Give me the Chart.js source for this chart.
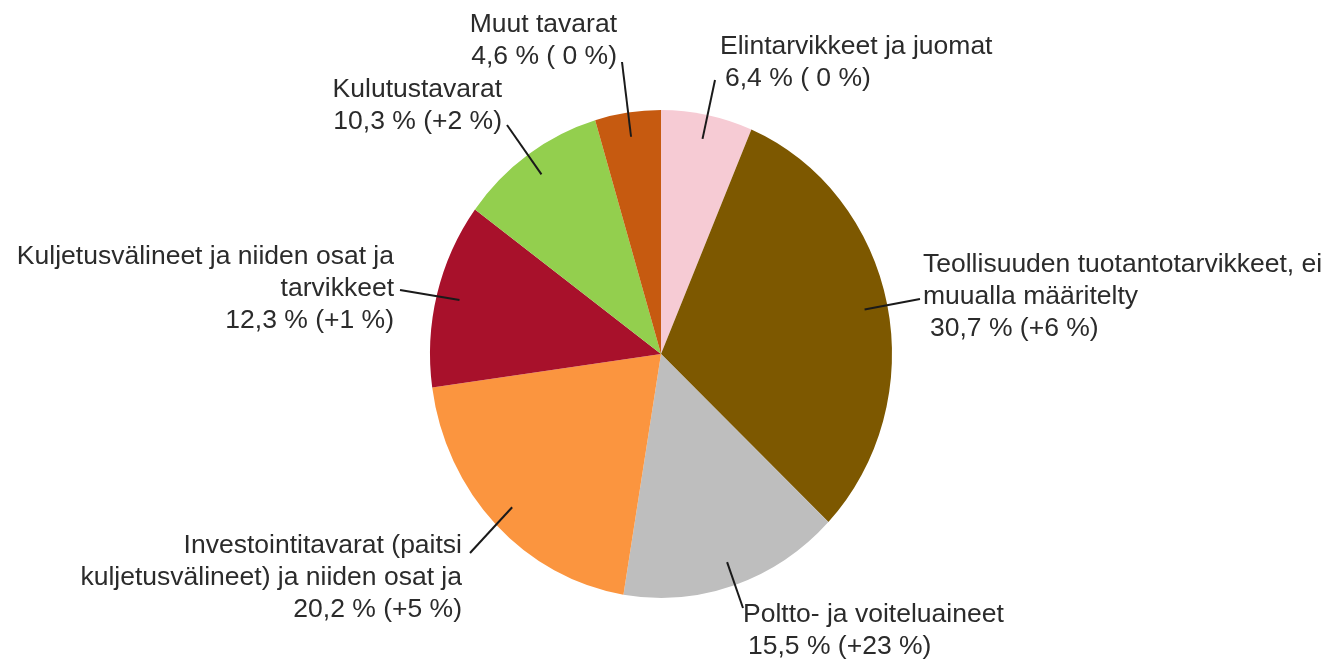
<!DOCTYPE html>
<html lang="fi">
<head>
    <meta charset="UTF-8">
    <title>Tuonti tavararyhmittäin</title>
    <script src="https://cdn.jsdelivr.net/npm/chart.js"></script>
    <style>
        body {
            margin: 0;
            background-color: #ffffff;
        }
        #chartBox {
            width: 1334px;
            height: 663px;
        }
    </style>
</head>
<body>
    <div id="chartBox">
        <canvas id="pieChart"></canvas>
    </div>

    <script>
        // categories, clockwise from 12 o'clock
        const categories = [
            'Elintarvikkeet ja juomat',
            'Teollisuuden tuotantotarvikkeet, ei\nmuualla määritelty',
            'Poltto- ja voiteluaineet',
            'Investointitavarat (paitsi\nkuljetusvälineet) ja niiden osat ja',
            'Kuljetusvälineet ja niiden osat ja\ntarvikkeet',
            'Kulutustavarat',
            'Muut tavarat'
        ];
        const shares = [6.4, 30.7, 15.5, 20.2, 12.3, 10.3, 4.6];   // osuus, %
        const changes = [0, 6, 23, 5, 1, 2, 0];                      // muutos, %
        const colors = ['#f6cbd4', '#7d5800', '#bebebe', '#fb953f', '#a8112b', '#93cf4e', '#c65a10'];

        // label placement (left edge or right edge, first baseline, leader start)
        const labelLayout = [
            { align: 'left',  x: 720, y: 54,  indent: 5, lx: 715, ly: 80 },
            { align: 'left',  x: 923, y: 272, indent: 7, lx: 920, ly: 299 },
            { align: 'left',  x: 743, y: 622, indent: 5, lx: 743, ly: 608 },
            { align: 'right', x: 462, y: 553, indent: 0, lx: 470, ly: 553 },
            { align: 'right', x: 394, y: 264, indent: 0, lx: 400, ly: 290 },
            { align: 'right', x: 502, y: 97,  indent: 0, lx: 507, ly: 125 },
            { align: 'right', x: 617, y: 32,  indent: 0, lx: 622, ly: 62 }
        ];
        const lineHeight = 32;
        const stretchY = 1.056;   // the original pie is a little taller than wide

        function fmtShare(v) {
            return v.toFixed(1).replace('.', ',') + ' %';
        }
        function fmtChange(v) {
            return v === 0 ? '( 0 %)' : '(+' + v + ' %)';
        }

        const stretchPlugin = {
            id: 'stretch',
            beforeDatasetsDraw(chart) {
                const arc = chart.getDatasetMeta(0).data[0];
                const ctx = chart.ctx;
                ctx.save();
                ctx.translate(0, arc.y);
                ctx.scale(1, stretchY);
                ctx.translate(0, -arc.y);
            },
            afterDatasetsDraw(chart) {
                chart.ctx.restore();
            }
        };

        const labelPlugin = {
            id: 'pieLabels',
            afterDraw(chart) {
                const ctx = chart.ctx;
                const arcs = chart.getDatasetMeta(0).data;
                ctx.save();
                ctx.font = '26.5px "Liberation Sans", Arial, sans-serif';
                ctx.fillStyle = '#2b2b2b';
                ctx.textBaseline = 'alphabetic';
                arcs.forEach((arc, i) => {
                    const pos = labelLayout[i];
                    const lines = categories[i].split('\n');
                    lines.push(fmtShare(shares[i]) + ' ' + fmtChange(changes[i]));
                    ctx.textAlign = pos.align;
                    lines.forEach((line, k) => {
                        const dx = (k === lines.length - 1) ? pos.indent : 0;
                        ctx.fillText(line, pos.x + dx, pos.y + k * lineHeight);
                    });
                    // leader line to the middle of the slice
                    const mid = (arc.startAngle + arc.endAngle) / 2;
                    const r = arc.outerRadius * 0.9;
                    const px = arc.x + Math.cos(mid) * r;
                    const py = arc.y + Math.sin(mid) * r * stretchY;
                    ctx.beginPath();
                    ctx.moveTo(pos.lx, pos.ly);
                    ctx.lineTo(px, py);
                    ctx.strokeStyle = '#1a1a1a';
                    ctx.lineWidth = 2;
                    ctx.stroke();
                });
                ctx.restore();
            }
        };

        const ctx = document.getElementById('pieChart').getContext('2d');
        const pieChart = new Chart(ctx, {
            type: 'pie',
            data: {
                labels: categories,
                datasets: [{
                    data: shares,
                    backgroundColor: colors,
                    borderWidth: 0
                }]
            },
            options: {
                responsive: true,
                maintainAspectRatio: false,
                animation: false,
                layout: {
                    padding: { top: 123, bottom: 78, left: 0, right: 12 }
                },
                plugins: {
                    legend: { display: false },
                    tooltip: { enabled: false }
                }
            },
            plugins: [stretchPlugin, labelPlugin]
        });
    </script>
</body>
</html>
